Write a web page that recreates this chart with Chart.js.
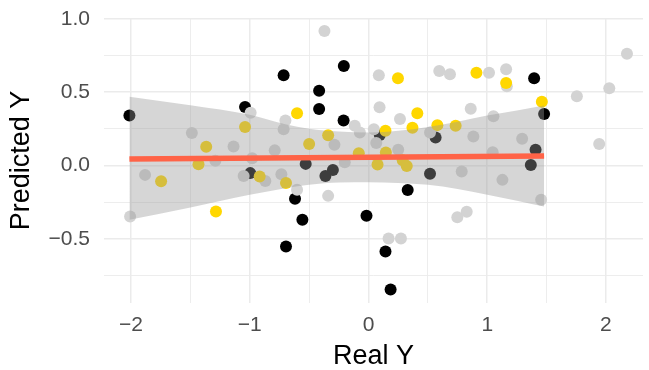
<!DOCTYPE html>
<html>
<head>
<meta charset="utf-8">
<script src="https://cdn.jsdelivr.net/npm/chart.js@4/dist/chart.umd.min.js"></script>
<style>
html,body{margin:0;padding:0;background:#fff;}
#wrap{width:649px;height:370px;}
</style>
</head>
<body>
<div id="wrap"><canvas id="myChart" width="649" height="370"></canvas></div>
<script>
// points, one pair of arrays per colour
var grayX = [-0.371,-0.993,-0.700,-0.715,-1.488,-0.116,-0.073,0.045,0.087,0.093,-0.287,-1.137,-0.790,0.065,-0.980,-1.290,-1.882,-1.052,-0.869,-0.734,-0.602,-0.200,-0.340,-2.008,2.177,2.028,1.755,0.596,0.686,1.015,1.159,1.165,0.265,0.861,1.052,0.518,0.883,1.294,1.943,0.250,1.046,0.785,1.128,1.454,0.748,0.827,0.169,0.273];
var grayY = [0.916,0.360,0.306,0.247,0.222,0.270,0.224,0.247,0.615,0.397,0.142,0.129,0.103,0.153,0.050,0.033,-0.064,-0.071,-0.105,-0.059,-0.166,0.022,-0.207,-0.348,0.762,0.526,0.472,0.644,0.621,0.632,0.655,0.540,0.316,0.387,0.336,0.224,0.197,0.183,0.147,0.108,0.090,-0.041,-0.098,-0.234,-0.352,-0.316,-0.498,-0.498];

var goldX = [-0.602,-1.040,-0.340,-0.500,-1.367,-0.082,-1.432,-1.747,-0.917,-0.695,-1.285,0.248,0.909,1.159,1.460,0.411,0.143,0.370,0.580,0.734,0.146,0.076,0.288,0.322];
var goldY = [0.356,0.263,0.206,0.147,0.127,0.084,0.009,-0.107,-0.075,-0.120,-0.314,0.594,0.632,0.562,0.435,0.356,0.236,0.257,0.275,0.270,0.089,0.006,0.035,-0.003];

var blackX = [-0.208,-0.715,-0.416,-0.416,-0.210,-1.040,-2.014,1.395,1.479,0.565,1.407,0.095,-0.996,-0.529,-0.363,-0.300,-0.619,-0.557,-0.695,-0.017,0.143,0.186,1.367,0.518,0.330];
var blackY = [0.678,0.615,0.510,0.385,0.306,0.399,0.340,0.594,0.351,0.191,0.108,0.208,-0.052,0.011,-0.071,-0.030,-0.227,-0.370,-0.552,-0.343,-0.586,-0.845,0.004,-0.057,-0.167];

// fitted line and its confidence band
var fitX = [-2.014, 1.479];
var fitY = [0.045, 0.065];
var bandX = [-2.014,-1.5,-1.0,-0.7,-0.5,-0.25,0,0.25,0.5,0.75,1.0,1.25,1.479];
var bandUpper = [0.469,0.410,0.345,0.281,0.250,0.231,0.224,0.236,0.263,0.298,0.340,0.375,0.408];
var bandLower = [-0.370,-0.287,-0.200,-0.155,-0.132,-0.116,-0.114,-0.120,-0.132,-0.160,-0.200,-0.240,-0.280];

var FONT = "'Liberation Sans', Arial, sans-serif";

function pairs(xs, ys){
  var out = [];
  for (var i = 0; i < xs.length; i++) {
    out.push({x: xs[i], y: ys[i]});
  }
  return out;
}
function near(v, step){
  var r = v / step;
  return Math.abs(r - Math.round(r)) < 1e-6;
}
function minus(s){
  return s.replace('-', '\u2212');
}
// fixed axis boxes, no extra room for the end labels
function fixBox(s){
  if (s.isHorizontal()) s.height = 67; else s.width = 104;
  s.paddingTop = 0; s.paddingBottom = 0; s.paddingLeft = 0; s.paddingRight = 0;
}

var ctx = document.getElementById('myChart').getContext('2d');
var myChart = new Chart(ctx, {
  type: 'scatter',
  data: {
    datasets: [
      {type:'line', label:'fit', data: pairs(fitX, fitY), borderColor:'#FF6347', borderWidth:5.5,
       borderCapStyle:'butt', pointRadius:0, fill:false, order:1},
      {type:'line', label:'upper', data: pairs(bandX, bandUpper), borderWidth:0, borderColor:'rgba(0,0,0,0)',
       pointRadius:0, cubicInterpolationMode:'monotone', fill:'+1', backgroundColor:'rgba(153,153,153,0.4)', order:2},
      {type:'line', label:'lower', data: pairs(bandX, bandLower), borderWidth:0, borderColor:'rgba(0,0,0,0)',
       pointRadius:0, cubicInterpolationMode:'monotone', fill:false, order:2},
      {label:'gold', data: pairs(goldX, goldY), backgroundColor:'#FFD700', pointRadius:6, borderWidth:0, order:3},
      {label:'gray', data: pairs(grayX, grayY), backgroundColor:'#D3D3D3', pointRadius:6, borderWidth:0, order:4},
      {label:'black', data: pairs(blackX, blackY), backgroundColor:'#000000', pointRadius:6, borderWidth:0, order:5}
    ]
  },
  options: {
    responsive:false,
    animation:false,
    devicePixelRatio:1,
    events:[],
    layout:{padding:{top:18, right:0, bottom:0, left:0}},
    plugins:{legend:{display:false}, tooltip:{enabled:false}},
    scales:{
      x:{
        type:'linear', min:-2.228, max:2.312,
        afterFit:fixBox,
        border:{display:false},
        grid:{color:'#EBEBEB', drawTicks:false,
          lineWidth:function(c){ return (c.tick && near(c.tick.value, 1)) ? 1.5 : 0.9; }},
        ticks:{stepSize:0.5, includeBounds:false, autoSkip:false, maxRotation:0, padding:0,
          color:'#4D4D4D', font:{family:FONT, size:21, lineHeight:2.1},
          callback:function(v){
            if (!near(v, 1)) return '';
            if (Math.abs(v) < 1e-9) return '0';
            return minus(String(Math.round(v)));
          }},
        title:{display:true, text:'Real Y', color:'#000', font:{family:FONT, size:27, lineHeight:1},
          padding:{top:0, bottom:0}}
      },
      y:{
        type:'linear', min:-0.937, max:1.005,
        afterFit:fixBox,
        border:{display:false},
        grid:{color:'#EBEBEB', drawTicks:false,
          lineWidth:function(c){ return (c.tick && near(c.tick.value, 0.5)) ? 1.5 : 0.9; }},
        ticks:{stepSize:0.25, includeBounds:false, autoSkip:false, padding:14,
          color:'#4D4D4D', font:{family:FONT, size:21},
          callback:function(v){
            if (!near(v, 0.5)) return '';
            if (Math.abs(v) < 1e-9) return '0.0';
            return minus(v.toFixed(1));
          }},
        title:{display:true, text:'Predicted Y', color:'#000', font:{family:FONT, size:27, lineHeight:1},
          padding:{top:8, bottom:0}}
      }
    }
  }
});
</script>
</body>
</html>
